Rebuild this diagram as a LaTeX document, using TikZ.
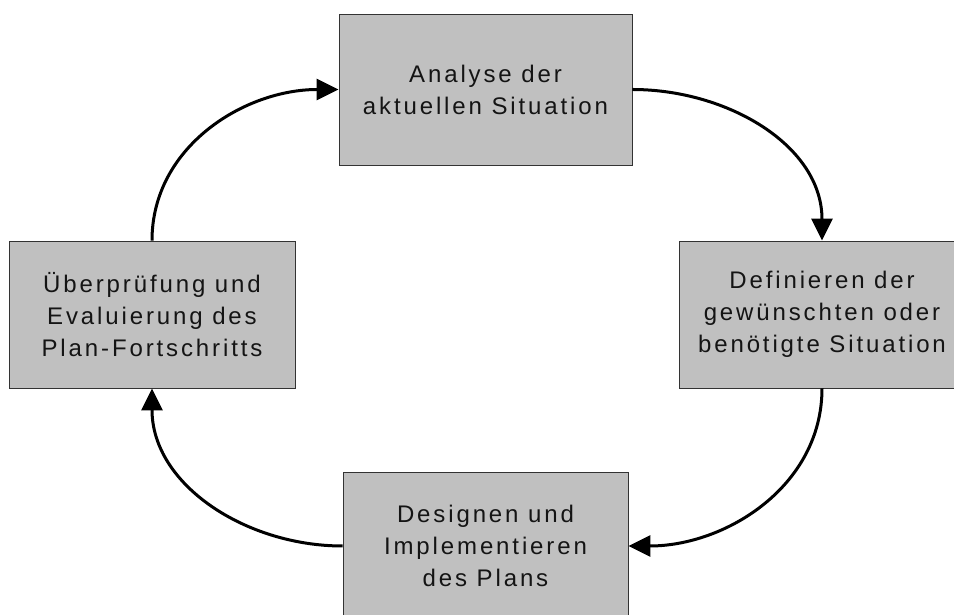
\documentclass[tikz,border=0pt]{standalone}
\usepackage{fontspec}
\setmainfont{Liberation Sans}[LetterSpace=12]
\usetikzlibrary{arrows.meta}
\definecolor{boxgray}{HTML}{C0C0C0}
\definecolor{boxline}{HTML}{333333}
\tikzset{
  stepbox/.style={draw=boxline, line width=0.9pt, fill=boxgray, align=center, inner sep=0pt,
    font=\fontsize{24}{32}\selectfont, text=black!92},
  flow/.style={line width=3pt, -{Triangle[length=22pt,width=21pt]}}
}
\begin{document}
\begin{tikzpicture}[x=1pt,y=1pt]
\clip (0,0) rectangle (954,615);
\fill[white] (0,0) rectangle (954,615);
\node[stepbox, minimum width=293pt, minimum height=151pt] (top) at (485.5,525.5) {Analyse der\\aktuellen Situation};
\node[stepbox, minimum width=286pt, minimum height=147pt] (right) at (822,300.5) {Definieren der\\gewünschten oder\\benötigte Situation};
\node[stepbox, minimum width=285pt, minimum height=148pt] (bottom) at (485.5,69) {Designen und\\Implementieren\\des Plans};
\node[stepbox, minimum width=286pt, minimum height=147pt] (left) at (152,300.5) {Überprüfung und\\Evaluierung des\\Plan-Fortschritts};
\draw[flow] (left.north) to[out=90,in=180] (top.west);
\draw[flow] (top.east) to[out=0,in=90] (right.north);
\draw[flow] (right.south) to[out=-90,in=0] (bottom.east);
\draw[flow] (bottom.west) to[out=180,in=-90] (left.south);
\end{tikzpicture}
\end{document}
